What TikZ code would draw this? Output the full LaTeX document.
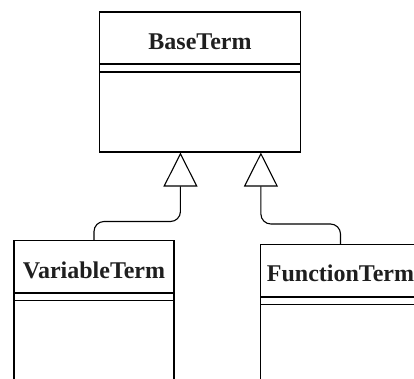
\documentclass[tikz,border=0pt]{standalone}
\usepackage{fontspec}
\setmainfont{Liberation Serif}
\usetikzlibrary{arrows.meta,calc}
\begin{document}
\begin{tikzpicture}[x=1pt,y=-1pt,
  classbox/.style={draw=black,line width=1.1pt,fill=white,rectangle,inner sep=0pt},
  classtitle/.style={font=\fontsize{24}{24}\selectfont\bfseries,inner sep=0pt,text=black!88},
  sepline/.style={line width=1.1pt},
  inherit/.style={line width=1.1pt,rounded corners=10pt,-{Triangle[open,length=34pt,width=34pt,line width=1.1pt]}}
]
\useasboundingbox (0,0) rectangle (414,378);
\clip (0,0) rectangle (414,378);
% BaseTerm
\node[classbox,minimum width=200.5pt,minimum height=140pt] (bt) at (200,82) {};
\node[classtitle] (btt) at (200,42) {BaseTerm};
\draw[sepline] (99.75,64) -- (300.25,64);
\draw[sepline] (99.75,72) -- (300.25,72);
% VariableTerm
\node[classbox,minimum width=160pt,minimum height=160pt] (vt) at (94,320.5) {};
\node[classtitle] (vtt) at (94,270) {VariableTerm};
\draw[sepline] (14,293) -- (174,293);
\draw[sepline] (14,300.7) -- (174,300.7);
% FunctionTerm
\node[classbox,minimum width=160pt,minimum height=160pt] (ft) at (340.5,324.3) {};
\node[classtitle] (ftt) at (340.5,273) {FunctionTerm};
\draw[sepline] (260.5,297) -- (420.5,297);
\draw[sepline] (260.5,304.3) -- (420.5,304.3);
% attach points on BaseTerm
\coordinate (b1) at ($(bt.south west)!0.403!(bt.south east)$);
\coordinate (b2) at ($(bt.south west)!0.802!(bt.south east)$);
% connectors
\draw[inherit] (vt.north) -- (vt.north |- 0,221.5) -- (b1 |- 0,221.5) -- (b1);
\draw[inherit] (ft.north) -- (ft.north |- 0,224) -- (b2 |- 0,224) -- (b2);
\end{tikzpicture}
\end{document}
